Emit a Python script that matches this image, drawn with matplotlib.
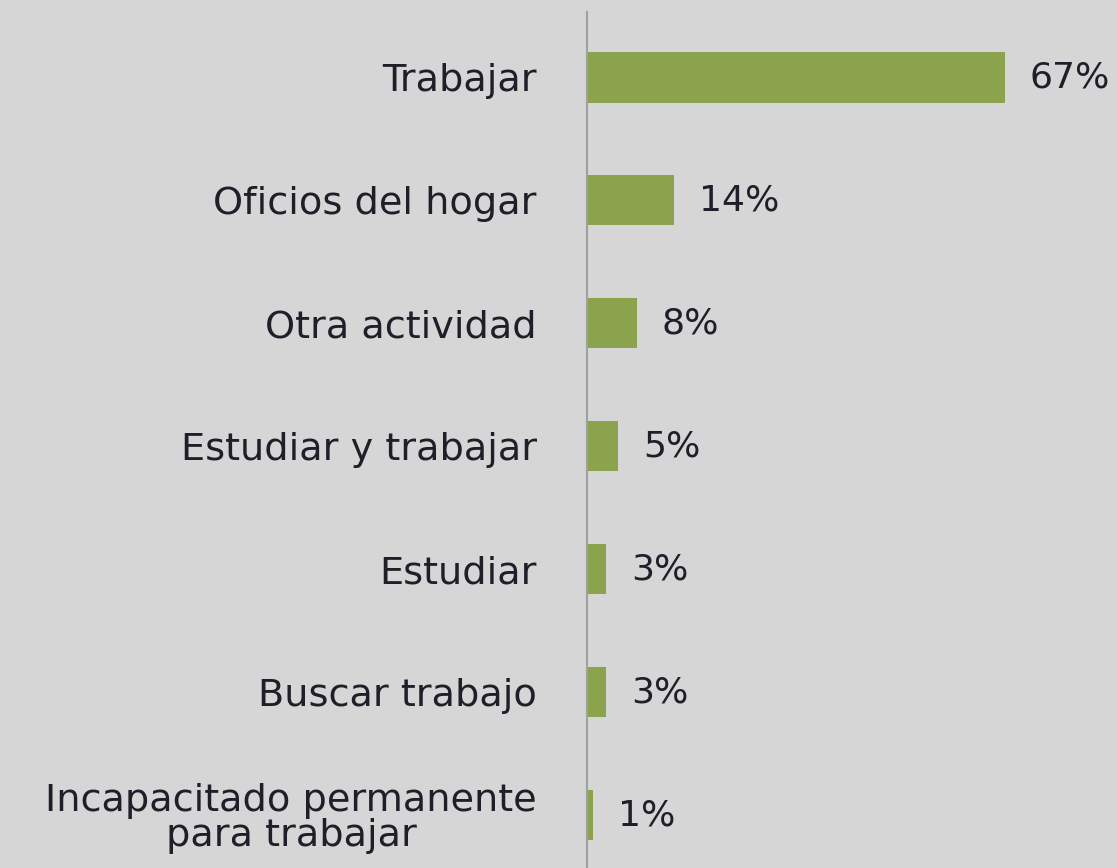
import matplotlib.pyplot as plt

categories = [
    "Trabajar",
    "Oficios del hogar",
    "Otra actividad",
    "Estudiar y trabajar",
    "Estudiar",
    "Buscar trabajo",
    "Incapacitado permanente\npara trabajar",
]
values = [67, 14, 8, 5, 3, 3, 1]
value_labels = ["67%", "14%", "8%", "5%", "3%", "3%", "1%"]

BG = "#d6d6d6"
BAR = "#8aa34c"
TEXT = "#1f1f2a"

plt.rcParams["font.family"] = ["DejaVu Sans"]

fig = plt.figure(figsize=(11.17, 8.68), dpi=100, facecolor=BG)
ax = fig.add_axes([0.5255, 0.0, 0.4745, 0.986])
ax.set_facecolor(BG)

pos = range(len(categories))
ax.barh(pos, values, height=0.41, color=BAR, zorder=2)

for y, v, lab in zip(pos, values, value_labels):
    ax.annotate(lab, (v, y), xytext=(18, 0), textcoords="offset points",
                ha="left", va="center", fontsize=26, color=TEXT)

ax.set_xlim(0, 85)
ax.set_ylim(6.43, -0.53)
ax.set_yticks(list(pos))
ax.set_yticklabels(categories, fontsize=27.5, color=TEXT)
ax.tick_params(axis="y", length=0, pad=36)
ax.set_xticks([])

# two-line label is centred between its lines
for t in ax.get_yticklabels():
    t.set_multialignment("center")
    t.set_linespacing(0.95)

for s in ["top", "right", "bottom"]:
    ax.spines[s].set_visible(False)
ax.spines["left"].set_color("#a0a0a0")
ax.spines["left"].set_linewidth(1.5)

fig.savefig("out.png", dpi=100, facecolor=BG)
